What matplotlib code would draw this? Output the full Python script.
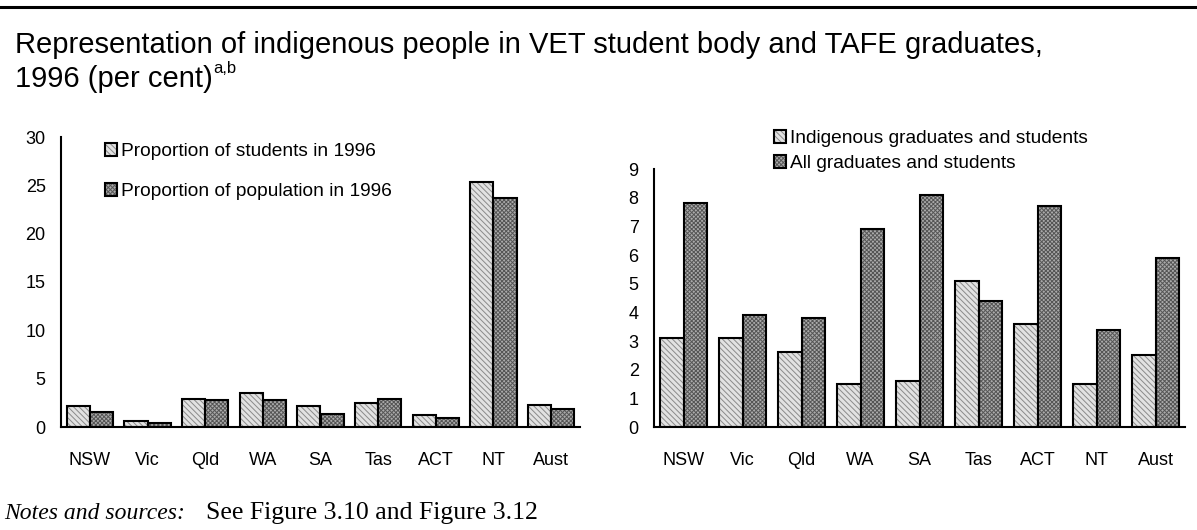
import numpy as np
import matplotlib
matplotlib.use('Agg')
import matplotlib.pyplot as plt
from matplotlib.patches import Patch
from matplotlib.lines import Line2D
from matplotlib.legend_handler import HandlerTuple

plt.rcParams['font.family'] = ['Liberation Sans', 'DejaVu Sans']
plt.rcParams['hatch.linewidth'] = 0.7

# ── data ─────────────────────────────────────────────────────────────────────
states = ['NSW', 'Vic', 'Qld', 'WA', 'SA', 'Tas', 'ACT', 'NT', 'Aust']

students_1996   = [2.2, 0.6, 2.9, 3.5, 2.2, 2.5, 1.2, 25.3, 2.3]
population_1996 = [1.6, 0.4, 2.8, 2.8, 1.3, 2.9, 0.9, 23.7, 1.9]

indig_grads = [3.1, 3.1, 2.6, 1.5, 1.6, 5.1, 3.6, 1.5, 2.5]
all_grads   = [7.8, 3.9, 3.8, 6.9, 8.1, 4.4, 7.7, 3.4, 5.9]

left_labels  = ['Proportion of students in 1996', 'Proportion of population in 1996']
right_labels = ['Indigenous graduates and students', 'All graduates and students']

# ── styles ───────────────────────────────────────────────────────────────────
LIGHT = dict(face='#e2e2e2', hatch='\\\\\\\\\\\\', hcol='#8a8a8a')
DARK  = dict(face='#ababab', hatch='xxxxxxxx', hcol='#555555')
W = 0.4
FS_TICK = 13
FS_LEG = 13.8


def _bars(ax, x, vals, sty):
    ax.bar(x, vals, W, color=sty['face'], edgecolor=sty['hcol'],
           hatch=sty['hatch'], lw=0, zorder=2)
    ax.bar(x, vals, W, fill=False, edgecolor='black', lw=1.5, zorder=3)


def _handle(sty):
    return (Patch(facecolor=sty['face'], edgecolor=sty['hcol'], hatch=sty['hatch'], lw=0),
            Patch(fill=False, edgecolor='black', lw=1.5))


def _style(ax, ymax, step):
    x = np.arange(len(states))
    ax.set_xlim(-0.5, len(states) - 0.5)
    ax.set_ylim(0, ymax)
    ax.set_yticks(np.arange(0, ymax + 0.1, step))
    ax.set_xticks(x)
    ax.set_xticklabels(states)
    for s in ('top', 'right'):
        ax.spines[s].set_visible(False)
    for s in ('left', 'bottom'):
        ax.spines[s].set_linewidth(1.5)
    ax.tick_params(axis='y', length=0, pad=11, labelsize=FS_TICK)
    ax.tick_params(axis='x', length=0, pad=18, labelsize=FS_TICK)


def _legend(ax, labels, x0, y0, spacing):
    ax.legend([_handle(LIGHT), _handle(DARK)], labels,
              handler_map={tuple: HandlerTuple(ndivide=1)},
              loc='upper left', bbox_to_anchor=(x0 / 1197, 1 - y0 / 530),
              bbox_transform=fig.transFigure, frameon=False, fontsize=FS_LEG,
              handlelength=0.65, handleheight=0.65, handletextpad=0.2,
              labelspacing=spacing, borderpad=0, borderaxespad=0)


fig = plt.figure(figsize=(11.97, 5.30), dpi=100)

# top rule
fig.add_artist(Line2D([0, 1], [1 - 7 / 530] * 2, color='black', lw=2.2,
                      transform=fig.transFigure))

# title
fig.text(15 / 1197, 1 - 53 / 530,
         'Representation of indigenous people in VET student body and TAFE graduates,',
         fontsize=21, va='baseline', ha='left')
t2 = fig.text(15 / 1197, 1 - 87 / 530, '1996 (per cent)',
              fontsize=21, va='baseline', ha='left')
fig.canvas.draw()
bb = t2.get_window_extent()
fig.text(bb.x1 / 1197 + 1 / 1197, 1 - 73 / 530, 'a,b', fontsize=12,
         va='baseline', ha='left')

x = np.arange(len(states))

# ── left panel ──
axl = fig.add_axes([61 / 1197, 103 / 530, 519 / 1197, 290 / 530])
_bars(axl, x - W / 2, students_1996, LIGHT)
_bars(axl, x + W / 2, population_1996, DARK)
_style(axl, 30, 5)
_legend(axl, left_labels, 105, 143, 1.2)

# ── right panel ──
axr = fig.add_axes([654 / 1197, 103 / 530, 531 / 1197, 258 / 530])
_bars(axr, x - W / 2, indig_grads, LIGHT)
_bars(axr, x + W / 2, all_grads, DARK)
_style(axr, 9, 1)
_legend(axr, right_labels, 774, 130, 0.42)

# notes
fig.text(4 / 1197, 1 - 519 / 530, 'Notes and sources:', family='Liberation Serif',
         style='italic', fontsize=17, va='baseline')
fig.text(206 / 1197, 1 - 519 / 530, 'See Figure 3.10 and Figure 3.12',
         family='Liberation Serif', fontsize=18.5, va='baseline')

fig.savefig('out.png', dpi=100)
